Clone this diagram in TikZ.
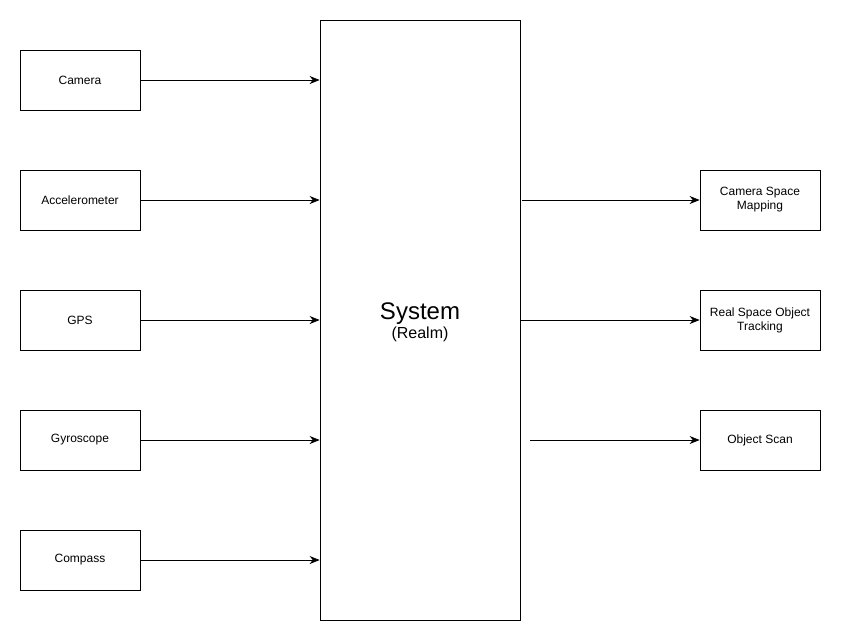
\documentclass[tikz,border=0pt]{standalone}
\usepackage{fontspec}
\setmainfont{Liberation Sans}
\usetikzlibrary{arrows.meta}

\tikzset{
    block/.style={draw, line width=0.8pt, minimum width=120pt, minimum height=60pt,
        inner sep=0pt, align=center, font=\fontsize{12}{14}\selectfont},
    link/.style={-{Stealth[length=10pt,width=8pt]}, line width=0.8pt}
}

\begin{document}
\begin{tikzpicture}[x=1pt,y=-1pt]
        \useasboundingbox (0,0) rectangle (841,641);

        \node[draw, line width=0.8pt, minimum width=200pt, minimum height=600pt, inner sep=0pt] (sys) at (420,320) {};
        \node[align=center] (syslabel) at (420,322) {{\fontsize{24}{28}\selectfont System}\\[1pt]{\fontsize{16}{18}\selectfont (Realm)}};

        \foreach \name/\txt [count=\i] in {cam/Camera, acc/Accelerometer, gps/GPS, gyro/Gyroscope, comp/Compass}
        {
            \node[block] (\name) at (80,-40+120*\i) {\txt};
            \draw[link] (\name) -- (sys.west |- \name);
        }

        \node[block] (map) at (760,200) {Camera Space\\Mapping};
        \node[block] (track) at (760,320) {Real Space Object\\Tracking};
        \node[block] (scan) at (760,440) {Object Scan};

        \draw[link] ([xshift=2pt]sys.east |- map) -- (map);
        \draw[link] (sys.east |- track) -- (track);
        \draw[link] ([xshift=10pt]sys.east |- scan) -- (scan);

    \end{tikzpicture}
\end{document}
